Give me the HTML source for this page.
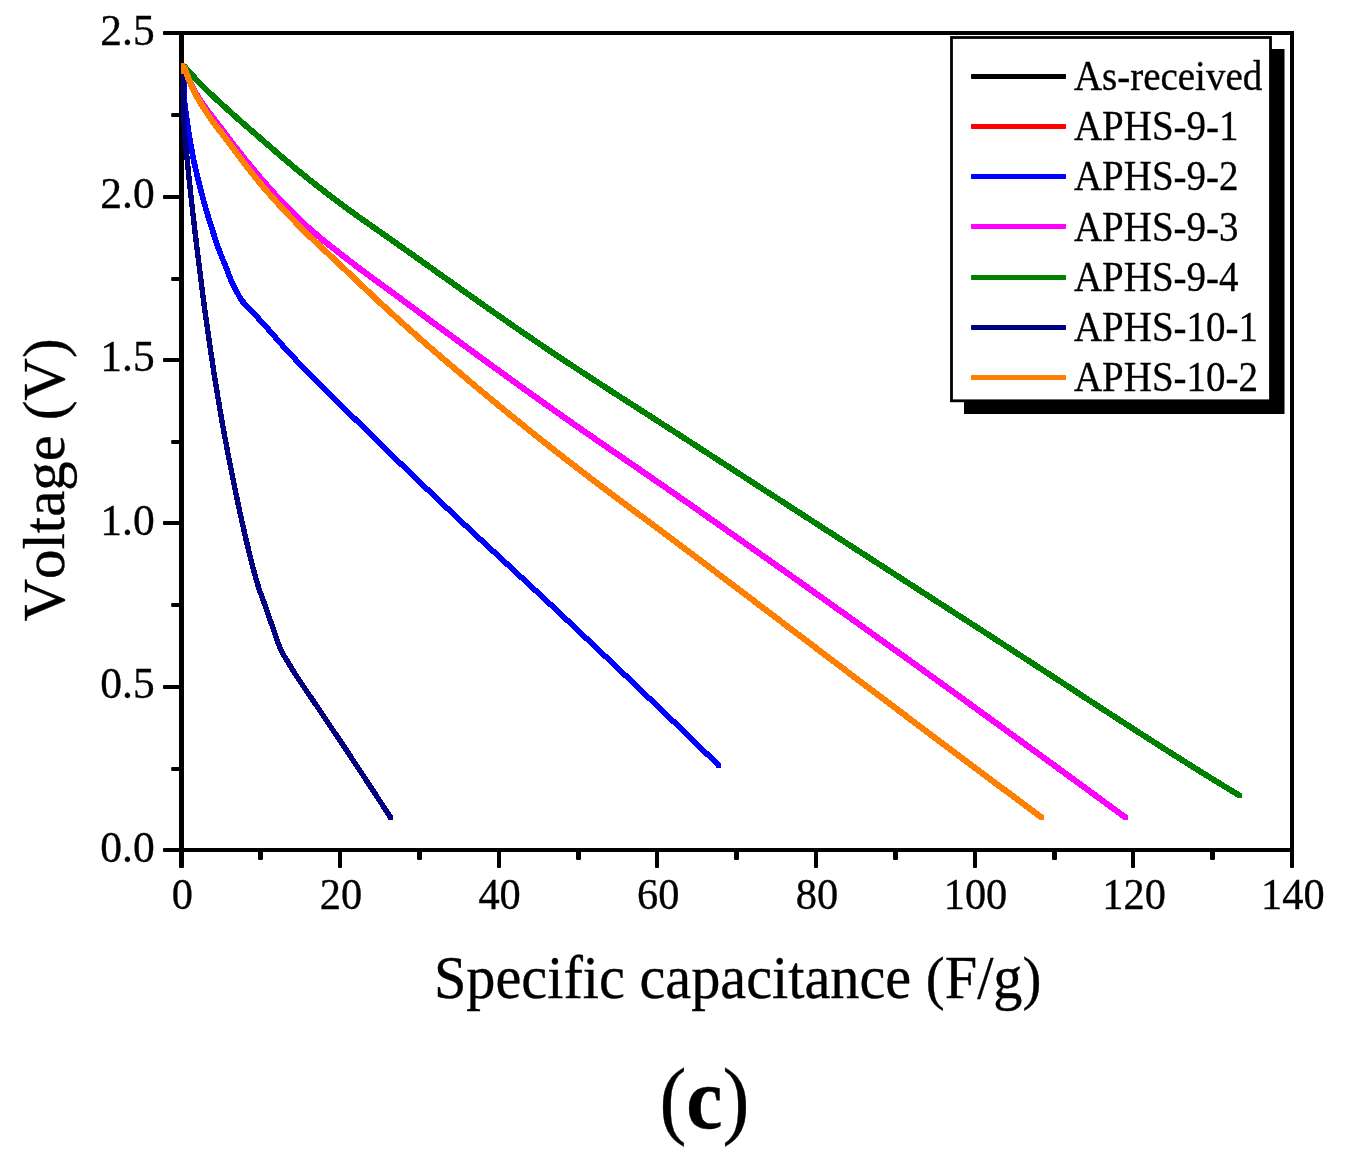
<!DOCTYPE html>
<html><head><meta charset="utf-8"><title>Voltage vs specific capacitance (c)</title>
<style>
html,body{margin:0;padding:0;background:#fff;}
body{width:1350px;height:1170px;overflow:hidden;}
svg{display:block;}
text{font-kerning:none;stroke:#000;stroke-width:0.35px;paint-order:stroke fill;font-family:"Liberation Serif",serif;fill:#000;}
</style></head><body>
<svg width="1350" height="1170" viewBox="0 0 1350 1170">
<rect x="0" y="0" width="1350" height="1170" fill="#fff"/>
<g stroke="#000" stroke-width="4" fill="none" stroke-linecap="round">
<rect x="181.5" y="33.0" width="1110.5" height="817.0" stroke-linejoin="miter"/>
<line x1="181.5" y1="33.0" x2="181.5" y2="850.0" stroke-width="5" stroke-linecap="butt"/>
<rect x="179" y="850.0" width="5" height="18" rx="0.9" fill="#000" stroke="none"/>
<rect x="258" y="850.0" width="5" height="10" rx="1.2" fill="#000" stroke="none"/>
<rect x="338" y="850.0" width="4" height="18" rx="0.9" fill="#000" stroke="none"/>
<rect x="417" y="850.0" width="5" height="10" rx="1.2" fill="#000" stroke="none"/>
<rect x="497" y="850.0" width="4" height="18" rx="0.9" fill="#000" stroke="none"/>
<rect x="576" y="850.0" width="5" height="10" rx="1.2" fill="#000" stroke="none"/>
<rect x="655" y="850.0" width="4" height="18" rx="0.9" fill="#000" stroke="none"/>
<rect x="734" y="850.0" width="5" height="10" rx="1.2" fill="#000" stroke="none"/>
<rect x="814" y="850.0" width="4" height="18" rx="0.9" fill="#000" stroke="none"/>
<rect x="893" y="850.0" width="5" height="10" rx="1.2" fill="#000" stroke="none"/>
<rect x="973" y="850.0" width="4" height="18" rx="0.9" fill="#000" stroke="none"/>
<rect x="1052" y="850.0" width="5" height="10" rx="1.2" fill="#000" stroke="none"/>
<rect x="1131" y="850.0" width="4" height="18" rx="0.9" fill="#000" stroke="none"/>
<rect x="1210" y="850.0" width="5" height="10" rx="1.2" fill="#000" stroke="none"/>
<rect x="1290" y="850.0" width="4" height="18" rx="0.9" fill="#000" stroke="none"/>
<rect x="163" y="848" width="18.5" height="4" rx="0.9" fill="#000" stroke="none"/>
<rect x="171.2" y="767" width="10.3" height="4" rx="0.9" fill="#000" stroke="none"/>
<rect x="163" y="685" width="18.5" height="4" rx="0.9" fill="#000" stroke="none"/>
<rect x="171.2" y="603" width="10.3" height="4" rx="0.9" fill="#000" stroke="none"/>
<rect x="163" y="521" width="18.5" height="4" rx="0.9" fill="#000" stroke="none"/>
<rect x="171.2" y="440" width="10.3" height="4" rx="0.9" fill="#000" stroke="none"/>
<rect x="163" y="358" width="18.5" height="4" rx="0.9" fill="#000" stroke="none"/>
<rect x="171.2" y="277" width="10.3" height="4" rx="0.9" fill="#000" stroke="none"/>
<rect x="163" y="195" width="18.5" height="4" rx="0.9" fill="#000" stroke="none"/>
<rect x="171.2" y="113" width="10.3" height="4" rx="0.9" fill="#000" stroke="none"/>
<rect x="163" y="31" width="18.5" height="4" rx="0.9" fill="#000" stroke="none"/>
</g>
<g shape-rendering="crispEdges" fill="none" stroke-width="5.6" stroke-linejoin="round" stroke-linecap="butt">
<polyline stroke="#0000FF" stroke-width="5.7" points="183.8,67.0 183.8,71.0 183.8,75.0 183.8,79.0 183.8,83.0 183.8,87.0 183.8,90.0 183.8,91.0 183.9,95.0 184.2,99.0 184.6,103.0 185.1,107.0 185.6,111.0 186.2,115.0 186.8,119.0 187.3,123.0 187.6,125.0 187.9,127.0 188.5,131.0 189.1,135.0 189.7,139.0 190.4,143.0 191.2,147.0 191.9,151.0 192.7,155.0 193.5,159.0 193.7,160.0 194.3,163.0 195.2,167.0 196.1,171.0 197.0,175.0 198.0,179.0 199.0,183.0 200.0,187.0 201.0,191.0 202.1,195.0 203.1,199.0 203.4,200.0 204.2,203.0 205.4,207.0 206.5,211.0 207.7,215.0 208.9,219.0 210.2,223.0 211.4,227.0 212.7,231.0 214.0,235.0 215.3,239.0 216.6,243.0 218.0,247.0 219.2,250.4 219.4,251.0 221.0,255.0 222.6,259.0 224.3,263.0 225.4,265.8 225.9,267.0 227.4,271.0 228.9,275.0 230.5,279.0 231.5,281.2 232.3,283.0 234.3,287.0 236.4,291.0 237.3,292.7 238.5,295.0 240.7,299.0 241.5,300.4 247.5,306.7 253.5,313.1 259.5,319.6 263.1,323.5 265.5,326.1 271.5,332.9 277.5,339.8 283.5,346.6 289.5,353.2 290.0,353.7 295.5,359.5 301.5,365.8 307.5,372.0 313.5,378.1 319.5,384.1 325.5,390.1 331.5,396.0 337.5,401.9 343.5,407.8 349.5,413.6 355.5,419.5 361.5,425.4 367.5,431.2 369.5,433.2 373.5,437.1 379.5,443.0 385.5,448.9 391.5,454.7 397.5,460.6 403.5,466.4 409.5,472.2 415.5,478.0 421.5,483.7 427.5,489.5 433.5,495.2 439.5,500.9 440.0,501.4 445.5,506.6 451.5,512.3 457.5,517.9 463.5,523.6 469.5,529.2 475.5,534.8 481.5,540.4 487.5,546.0 493.5,551.5 499.5,557.1 505.5,562.6 511.5,568.2 517.5,573.8 523.5,579.3 529.5,584.9 535.5,590.5 541.5,596.1 547.5,601.7 553.5,607.3 559.2,612.7 559.5,613.0 565.5,618.6 571.5,624.3 577.5,630.0 583.5,635.7 589.5,641.3 595.5,647.0 601.5,652.7 607.5,658.4 613.5,664.1 619.5,669.8 625.5,675.5 631.5,681.3 637.5,687.0 643.5,692.7 649.5,698.5 655.5,704.2 661.5,710.0 667.5,715.8 673.5,721.5 679.5,727.3 682.3,730.0 685.5,733.1 691.5,738.9 697.5,744.7 703.5,750.6 709.5,756.4 715.5,762.3 718.7,765.4"/>
<rect x="716.3" y="763.0" width="4.8" height="4.8" fill="#0000FF" stroke="none"/>
<polyline stroke="#FF00FF" stroke-width="6.1" points="183.5,65.4 189.5,80.5 194.0,90.0 195.5,92.7 201.5,102.3 207.5,110.7 213.5,118.5 219.5,126.2 220.0,126.9 225.5,134.2 231.5,142.1 237.5,149.8 243.5,157.4 249.5,164.8 255.5,172.0 260.0,177.3 261.5,179.0 267.5,185.9 273.5,192.7 279.5,199.3 285.5,205.7 291.5,211.8 297.5,217.7 300.0,220.1 303.5,223.3 309.5,228.7 315.5,233.8 321.5,238.8 327.5,243.6 333.5,248.4 339.5,253.1 340.0,253.5 345.5,257.8 351.5,262.4 357.5,267.0 363.5,271.4 369.5,275.9 375.5,280.3 381.5,284.7 387.5,289.0 393.5,293.4 399.5,297.8 400.0,298.2 405.5,302.3 411.5,306.7 417.5,311.1 423.5,315.5 429.5,320.0 435.5,324.4 441.5,328.8 447.5,333.2 453.5,337.6 459.5,342.0 465.5,346.4 471.5,350.8 477.5,355.2 483.5,359.6 489.5,363.9 495.5,368.3 501.5,372.6 507.5,377.0 513.5,381.3 519.5,385.6 525.5,389.9 531.5,394.2 537.5,398.5 540.0,400.3 543.5,402.8 549.5,407.0 555.5,411.3 561.5,415.5 567.5,419.7 573.5,423.9 579.5,428.1 585.5,432.3 591.5,436.4 597.5,440.6 603.5,444.7 609.5,448.9 615.5,453.0 621.5,457.1 627.5,461.3 633.5,465.4 639.5,469.5 645.5,473.7 651.5,477.8 657.5,481.9 663.5,486.1 669.5,490.2 675.5,494.4 681.5,498.6 687.5,502.7 693.5,506.9 699.5,511.1 700.0,511.5 705.5,515.4 711.5,519.6 717.5,523.8 723.5,528.0 729.5,532.3 735.5,536.5 741.5,540.7 747.5,545.0 753.5,549.2 759.5,553.4 765.5,557.7 771.5,561.9 777.5,566.2 783.5,570.4 789.5,574.7 795.5,579.0 801.5,583.2 807.5,587.5 813.5,591.8 819.5,596.0 825.5,600.3 831.5,604.6 837.5,608.9 843.5,613.1 849.5,617.4 855.5,621.7 861.5,626.0 867.5,630.3 873.5,634.6 879.5,638.9 885.5,643.2 891.5,647.5 897.5,651.8 900.0,653.6 903.5,656.1 909.5,660.4 915.5,664.7 921.5,669.1 927.5,673.4 933.5,677.7 939.5,682.0 945.5,686.4 951.5,690.7 957.5,695.1 963.5,699.4 969.5,703.8 975.5,708.1 981.5,712.5 987.5,716.8 993.5,721.2 999.5,725.5 1005.5,729.9 1011.5,734.3 1017.5,738.6 1023.5,743.0 1029.5,747.4 1035.5,751.7 1041.5,756.1 1047.5,760.5 1053.5,764.8 1059.5,769.2 1065.5,773.6 1071.5,778.0 1074.3,780.0 1077.5,782.3 1083.5,786.7 1089.5,791.1 1095.5,795.5 1101.5,799.9 1107.5,804.3 1113.5,808.7 1119.5,813.1 1125.5,817.5 1125.7,817.6"/>
<rect x="1123.3" y="815.2" width="4.8" height="4.8" fill="#FF00FF" stroke="none"/>
<polyline stroke="#008000" stroke-width="6.0" points="183.5,65.4 189.5,72.2 195.5,78.8 200.0,83.5 201.5,85.0 207.5,90.9 213.5,96.6 219.5,102.1 220.0,102.6 225.5,107.6 231.5,113.0 237.5,118.4 240.0,120.6 243.5,123.7 249.5,128.9 255.5,134.1 260.0,138.0 261.5,139.3 267.5,144.5 273.5,149.7 279.5,154.9 285.5,160.0 291.5,165.1 297.5,170.1 300.0,172.1 303.5,174.9 309.5,179.8 315.5,184.5 321.5,189.2 327.5,193.8 333.5,198.4 339.5,202.9 340.0,203.3 345.5,207.4 351.5,211.7 357.5,216.1 363.5,220.3 369.5,224.5 375.5,228.7 381.5,232.9 387.5,237.1 393.5,241.3 399.5,245.5 400.0,245.9 405.5,249.8 411.5,254.0 417.5,258.3 423.5,262.6 429.5,266.8 435.5,271.1 441.5,275.4 447.5,279.6 453.5,283.9 459.5,288.1 465.5,292.4 471.5,296.6 477.5,300.9 483.5,305.1 489.5,309.3 495.5,313.5 501.5,317.7 507.5,321.9 513.5,326.1 519.5,330.2 525.5,334.3 531.5,338.4 537.5,342.5 540.0,344.2 543.5,346.6 549.5,350.6 555.5,354.6 561.5,358.6 567.5,362.6 573.5,366.5 579.5,370.5 585.5,374.4 591.5,378.3 597.5,382.2 603.5,386.1 609.5,390.0 615.5,393.9 621.5,397.8 627.5,401.6 633.5,405.5 639.5,409.3 645.5,413.2 651.5,417.0 657.5,420.9 663.5,424.8 669.5,428.6 675.5,432.5 681.5,436.3 687.5,440.2 693.5,444.1 699.5,448.0 700.0,448.3 705.5,451.9 711.5,455.8 717.5,459.7 723.5,463.5 729.5,467.4 735.5,471.3 741.5,475.2 747.5,479.1 753.5,483.0 759.5,486.9 765.5,490.8 771.5,494.6 777.5,498.5 783.5,502.4 789.5,506.3 795.5,510.2 801.5,514.0 807.5,517.9 813.5,521.8 819.5,525.7 825.5,529.6 831.5,533.4 837.5,537.3 843.5,541.2 849.5,545.1 855.5,549.0 861.5,552.8 867.5,556.7 873.5,560.6 879.5,564.5 885.5,568.3 891.5,572.2 897.5,576.1 900.0,577.7 903.5,580.0 909.5,583.8 915.5,587.7 921.5,591.6 927.5,595.4 933.5,599.3 939.5,603.2 945.5,607.0 951.5,610.9 957.5,614.8 963.5,618.6 969.5,622.5 975.5,626.4 981.5,630.2 986.7,633.6 987.5,634.1 993.5,638.0 999.5,641.9 1005.5,645.8 1011.5,649.7 1017.5,653.6 1023.5,657.5 1029.5,661.4 1035.5,665.3 1041.5,669.2 1047.5,673.1 1053.5,677.0 1059.5,680.9 1065.5,684.8 1071.5,688.7 1077.5,692.7 1083.5,696.6 1089.5,700.5 1095.5,704.4 1101.5,708.3 1107.5,712.2 1113.5,716.1 1119.5,720.0 1125.5,723.8 1131.5,727.7 1137.5,731.6 1143.5,735.5 1149.5,739.3 1155.5,743.1 1161.5,747.0 1167.5,750.8 1173.5,754.6 1179.5,758.4 1185.5,762.2 1191.5,766.0 1197.5,769.7 1200.0,771.3 1203.5,773.5 1209.5,777.2 1215.5,780.9 1221.5,784.6 1227.5,788.2 1233.5,791.9 1239.5,795.5"/>
<rect x="1237.1" y="793.1" width="4.8" height="4.8" fill="#008000" stroke="none"/>
<polyline stroke="#000080" stroke-width="5.4" points="183.6,67.0 183.6,71.0 183.6,75.0 183.6,79.0 183.6,83.0 183.6,87.0 183.6,90.0 183.6,91.0 183.6,95.0 183.6,99.0 183.7,103.0 183.8,107.0 183.8,111.0 183.9,115.0 184.0,119.0 184.1,123.0 184.2,125.0 184.3,127.0 184.5,131.0 184.7,135.0 185.1,139.0 185.5,143.0 185.9,147.0 186.3,151.0 186.7,155.0 187.1,159.0 187.2,160.0 187.5,163.0 187.9,167.0 188.3,171.0 188.7,175.0 189.1,179.0 189.5,183.0 190.0,187.0 190.4,191.0 190.8,195.0 191.3,199.0 191.4,200.0 191.7,203.0 192.2,207.0 192.6,211.0 193.1,215.0 193.5,219.0 194.0,223.0 194.5,227.0 194.9,231.0 195.4,235.0 195.9,239.0 196.3,243.0 196.8,247.0 197.3,251.0 197.8,255.0 198.3,259.0 198.8,263.0 199.3,267.0 199.8,271.0 200.3,275.0 200.8,279.0 201.3,283.0 201.8,287.0 202.3,291.0 202.8,295.0 203.4,299.0 203.5,300.0 203.9,303.0 204.4,307.0 205.0,311.0 205.5,315.0 206.1,319.0 206.6,323.0 207.2,327.0 207.8,331.0 208.3,335.0 208.9,339.0 209.5,343.0 210.1,347.0 210.7,351.0 211.3,355.0 211.9,359.0 212.5,363.0 213.1,367.0 213.7,371.0 214.3,375.0 214.9,379.0 215.6,383.0 216.2,387.0 216.9,391.0 217.5,395.0 218.2,399.0 218.3,400.0 218.9,403.0 219.5,407.0 220.2,411.0 220.9,415.0 221.6,419.0 222.3,423.0 223.0,427.0 223.8,431.0 224.5,435.0 225.2,439.0 226.0,443.0 226.7,447.0 227.5,451.0 228.2,455.0 229.0,459.0 229.8,463.0 230.6,467.0 231.4,471.0 232.2,475.0 233.0,479.0 233.8,483.0 234.6,487.0 235.4,491.0 236.3,495.0 237.1,499.0 237.3,500.0 237.9,503.0 238.8,507.0 239.6,511.0 240.5,515.0 241.4,519.0 242.3,523.0 243.2,527.0 244.1,531.0 245.0,535.0 245.9,539.0 246.9,543.0 247.9,547.0 248.8,551.0 249.8,555.0 250.8,559.0 251.1,560.0 251.8,563.0 252.8,567.0 253.9,571.0 254.9,575.0 256.1,579.0 257.2,583.0 257.5,583.9 258.5,587.0 259.8,591.0 261.3,595.0 262.7,599.0 264.2,603.0 265.6,607.0 265.9,607.8 267.0,611.0 268.4,615.0 269.8,619.0 271.2,623.0 272.6,627.0 274.0,631.0 274.3,631.8 275.4,635.0 276.7,639.0 278.1,643.0 279.6,647.0 280.8,649.7 281.4,651.0 283.5,655.0 286.0,659.0 287.7,661.7 291.3,667.7 295.0,673.7 298.4,679.0 298.9,679.7 302.9,685.7 307.0,691.7 311.1,697.7 312.3,699.4 315.2,703.7 319.3,709.7 323.3,715.7 327.3,721.7 331.3,727.7 335.4,733.7 339.4,739.7 343.4,745.7 347.4,751.7 351.4,757.7 355.3,763.7 359.3,769.7 359.5,770.0 363.3,775.7 367.2,781.7 371.2,787.7 375.1,793.7 379.0,799.7 382.9,805.7 386.8,811.7 390.6,817.5"/>
<rect x="388.2" y="815.1" width="4.8" height="4.8" fill="#000080" stroke="none"/>
<polyline stroke="#FF8000" stroke-width="6.2" points="183.5,65.4 189.5,81.3 193.4,90.0 195.5,94.1 201.5,104.6 207.5,113.9 213.5,122.5 215.3,125.0 219.5,130.4 220.0,131.0 225.5,138.2 231.5,146.1 237.5,154.1 243.5,162.1 249.5,170.0 255.5,177.5 260.0,183.0 261.5,184.8 267.5,191.8 273.5,198.6 279.5,205.2 285.5,211.7 291.5,218.0 297.5,224.2 300.0,226.8 303.5,230.3 309.5,236.2 315.5,241.9 321.5,247.6 327.5,253.1 333.5,258.7 339.5,264.3 340.0,264.8 345.5,270.0 351.5,275.7 357.5,281.4 363.5,287.1 369.5,292.8 375.5,298.5 381.5,304.1 387.5,309.6 393.5,315.1 399.5,320.6 400.0,321.0 405.5,325.9 411.5,331.2 417.5,336.5 423.5,341.8 429.5,347.0 435.5,352.2 441.5,357.4 447.5,362.5 453.5,367.6 459.5,372.7 465.5,377.8 471.5,382.9 477.5,387.9 483.5,392.9 489.5,397.9 495.5,402.8 501.5,407.8 507.5,412.7 513.5,417.6 519.5,422.4 525.5,427.3 531.5,432.1 537.5,436.9 540.0,438.9 543.5,441.7 549.5,446.4 555.5,451.2 561.5,455.8 567.5,460.5 573.5,465.1 579.5,469.7 585.5,474.3 591.5,478.9 597.5,483.4 603.5,488.0 609.5,492.5 615.5,497.0 621.5,501.4 627.5,505.9 633.5,510.4 639.5,514.9 645.5,519.3 651.5,523.8 657.5,528.3 663.5,532.7 669.5,537.2 675.5,541.7 681.5,546.2 687.5,550.7 693.5,555.2 699.5,559.7 700.0,560.1 705.5,564.3 711.5,568.8 717.5,573.4 723.5,577.9 729.5,582.5 735.5,587.0 741.5,591.5 747.5,596.1 753.5,600.6 759.5,605.2 765.5,609.7 771.5,614.3 777.5,618.8 783.5,623.4 789.5,627.9 795.5,632.5 801.5,637.0 807.5,641.6 813.5,646.1 819.5,650.7 825.5,655.2 831.5,659.8 837.5,664.3 843.5,668.8 849.5,673.4 855.5,677.9 861.5,682.5 867.5,687.0 873.5,691.5 879.5,696.0 885.5,700.6 891.5,705.1 897.5,709.6 900.0,711.5 903.5,714.1 909.5,718.7 915.5,723.2 921.5,727.7 927.5,732.2 933.5,736.7 939.5,741.2 945.5,745.7 951.5,750.2 957.5,754.7 963.5,759.2 969.5,763.7 975.5,768.2 981.5,772.7 987.5,777.2 993.5,781.7 999.5,786.2 1005.5,790.6 1010.0,794.0 1011.5,795.1 1017.5,799.6 1023.5,804.1 1029.5,808.5 1035.5,813.0 1041.5,817.5 1041.7,817.6"/>
<rect x="1039.3" y="815.2" width="4.8" height="4.8" fill="#FF8000" stroke="none"/>
<rect x="180.8" y="63" width="4.2" height="11" fill="#FF8000" stroke="none"/>
</g>
<text transform="translate(100.30,861.60) scale(0.9667,1)" font-size="45.0" text-anchor="start" font-weight="normal">0.0</text>
<text transform="translate(100.30,698.20) scale(0.9667,1)" font-size="45.0" text-anchor="start" font-weight="normal">0.5</text>
<text transform="translate(100.30,534.80) scale(0.9667,1)" font-size="45.0" text-anchor="start" font-weight="normal">1.0</text>
<text transform="translate(100.30,371.40) scale(0.9667,1)" font-size="45.0" text-anchor="start" font-weight="normal">1.5</text>
<text transform="translate(100.30,208.00) scale(0.9667,1)" font-size="45.0" text-anchor="start" font-weight="normal">2.0</text>
<text transform="translate(100.30,44.60) scale(0.9667,1)" font-size="45.0" text-anchor="start" font-weight="normal">2.5</text>
<text transform="translate(182.30,909.40) scale(0.9422,1)" font-size="45.0" text-anchor="middle" font-weight="normal">0</text>
<text transform="translate(340.94,909.40) scale(0.9422,1)" font-size="45.0" text-anchor="middle" font-weight="normal">20</text>
<text transform="translate(499.59,909.40) scale(0.9422,1)" font-size="45.0" text-anchor="middle" font-weight="normal">40</text>
<text transform="translate(658.23,909.40) scale(0.9422,1)" font-size="45.0" text-anchor="middle" font-weight="normal">60</text>
<text transform="translate(816.87,909.40) scale(0.9422,1)" font-size="45.0" text-anchor="middle" font-weight="normal">80</text>
<text transform="translate(975.51,909.40) scale(0.9422,1)" font-size="45.0" text-anchor="middle" font-weight="normal">100</text>
<text transform="translate(1134.16,909.40) scale(0.9422,1)" font-size="45.0" text-anchor="middle" font-weight="normal">120</text>
<text transform="translate(1292.80,909.40) scale(0.9422,1)" font-size="45.0" text-anchor="middle" font-weight="normal">140</text>
<text transform="translate(433.90,998.40) scale(0.9557,1)" font-size="61" text-anchor="start" font-weight="normal">Specific capacitance <tspan font-size="59.5">(</tspan>F/g<tspan font-size="59.5">)</tspan></text>
<text transform="translate(64.40,621.60) rotate(-90) scale(0.9827,1)" font-size="60" text-anchor="start" font-weight="normal">Voltage (V)</text>
<text transform="translate(659.40,1128.20) scale(0.9379,1)" font-size="87" text-anchor="start" font-weight="normal"><tspan font-size="86.2" dy="-0.6">(</tspan><tspan font-weight="bold" dy="0.6">c</tspan><tspan font-size="86.2" dy="-0.6">)</tspan></text>
<rect x="964" y="49" width="320.5" height="365" fill="#000"/>
<rect x="951.5" y="37.5" width="319" height="363.3" fill="#fff" stroke="#000" stroke-width="2.8"/>
<rect x="971" y="74" width="95" height="5" rx="0.8" fill="#000000"/>
<text transform="translate(1073.90,89.80) scale(0.9198,1)" font-size="42.4" text-anchor="start" font-weight="normal">As-received</text>
<rect x="971" y="124" width="95" height="5" rx="0.8" fill="#FF0000"/>
<text transform="translate(1073.90,140.08) scale(0.9198,1)" font-size="42.4" text-anchor="start" font-weight="normal">APHS-9-1</text>
<rect x="971" y="174" width="95" height="5" rx="0.8" fill="#0000FF"/>
<text transform="translate(1073.90,190.35) scale(0.9198,1)" font-size="42.4" text-anchor="start" font-weight="normal">APHS-9-2</text>
<rect x="971" y="224" width="95" height="5" rx="0.8" fill="#FF00FF"/>
<text transform="translate(1073.90,240.62) scale(0.9198,1)" font-size="42.4" text-anchor="start" font-weight="normal">APHS-9-3</text>
<rect x="971" y="275" width="95" height="5" rx="0.8" fill="#008000"/>
<text transform="translate(1073.90,290.90) scale(0.9198,1)" font-size="42.4" text-anchor="start" font-weight="normal">APHS-9-4</text>
<rect x="971" y="325" width="95" height="5" rx="0.8" fill="#000080"/>
<text transform="translate(1073.90,341.17) scale(0.9198,1)" font-size="42.4" text-anchor="start" font-weight="normal">APHS-10-1</text>
<rect x="971" y="375" width="95" height="5" rx="0.8" fill="#FF8000"/>
<text transform="translate(1073.90,391.45) scale(0.9198,1)" font-size="42.4" text-anchor="start" font-weight="normal">APHS-10-2</text>
</svg></body></html>
